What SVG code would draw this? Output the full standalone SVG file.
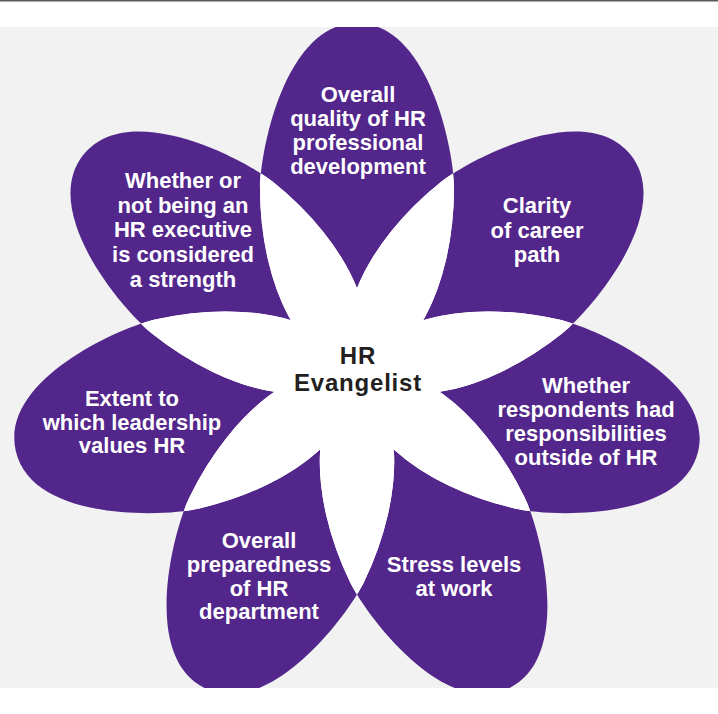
<svg xmlns="http://www.w3.org/2000/svg" xmlns:xlink="http://www.w3.org/1999/xlink" width="718" height="714" viewBox="0 0 718 714">
<style>
.petal { fill: #53268b; }
.ov { fill: #ffffff; }
.lbl { font-family: "Liberation Sans", Arial, sans-serif; font-weight: bold; font-size: 22px; fill: #ffffff; text-anchor: middle; }
.ctr { font-family: "Liberation Sans", Arial, sans-serif; font-weight: bold; font-size: 24px; fill: #231f20; text-anchor: middle; letter-spacing: 0.8px; }
</style>
<defs>
<path id="e0" transform="translate(357,373) rotate(-90)" d="M4,0 A181,97 0 0 1 185,-97 C222,-97 350,-72 350,0 C350,72 222,97 185,97 A181,97 0 0 1 4,0 Z"/>
<path id="e1" transform="translate(357,373) rotate(-38.571)" d="M4,0 A181,97 0 0 1 185,-97 C222,-97 350,-72 350,0 C350,72 222,97 185,97 A181,97 0 0 1 4,0 Z"/>
<path id="e2" transform="translate(357,373) rotate(12.857)" d="M4,0 A181,97 0 0 1 185,-97 C222,-97 350,-72 350,0 C350,72 222,97 185,97 A181,97 0 0 1 4,0 Z"/>
<path id="e3" transform="translate(357,373) rotate(64.286)" d="M4,0 A181,97 0 0 1 185,-97 C222,-97 350,-72 350,0 C350,72 222,97 185,97 A181,97 0 0 1 4,0 Z"/>
<path id="e4" transform="translate(357,373) rotate(115.714)" d="M4,0 A181,97 0 0 1 185,-97 C222,-97 350,-72 350,0 C350,72 222,97 185,97 A181,97 0 0 1 4,0 Z"/>
<path id="e5" transform="translate(357,373) rotate(167.143)" d="M4,0 A181,97 0 0 1 185,-97 C222,-97 350,-72 350,0 C350,72 222,97 185,97 A181,97 0 0 1 4,0 Z"/>
<path id="e6" transform="translate(357,373) rotate(218.571)" d="M4,0 A181,97 0 0 1 185,-97 C222,-97 350,-72 350,0 C350,72 222,97 185,97 A181,97 0 0 1 4,0 Z"/>
<clipPath id="bgclip"><rect x="0" y="27" width="718" height="661"/></clipPath>
<clipPath id="c0"><use href="#e1"/><use href="#e2"/><use href="#e3"/><use href="#e4"/><use href="#e5"/><use href="#e6"/></clipPath>
<clipPath id="c1"><use href="#e0"/><use href="#e2"/><use href="#e3"/><use href="#e4"/><use href="#e5"/><use href="#e6"/></clipPath>
<clipPath id="c2"><use href="#e0"/><use href="#e1"/><use href="#e3"/><use href="#e4"/><use href="#e5"/><use href="#e6"/></clipPath>
<clipPath id="c3"><use href="#e0"/><use href="#e1"/><use href="#e2"/><use href="#e4"/><use href="#e5"/><use href="#e6"/></clipPath>
<clipPath id="c4"><use href="#e0"/><use href="#e1"/><use href="#e2"/><use href="#e3"/><use href="#e5"/><use href="#e6"/></clipPath>
<clipPath id="c5"><use href="#e0"/><use href="#e1"/><use href="#e2"/><use href="#e3"/><use href="#e4"/><use href="#e6"/></clipPath>
<clipPath id="c6"><use href="#e0"/><use href="#e1"/><use href="#e2"/><use href="#e3"/><use href="#e4"/><use href="#e5"/></clipPath>
</defs>
<rect x="0" y="0" width="718" height="714" fill="#ffffff"/>
<rect x="0" y="0" width="718" height="1.5" fill="#5a5a5a"/>
<rect x="0" y="27" width="718" height="661" fill="#f2f2f2"/>
<g id="flower" clip-path="url(#bgclip)">
<g id="node-professional-development">
<use href="#e0" class="petal"/>
<text class="lbl"><tspan x="358" y="102">Overall</tspan><tspan x="358" y="126">quality of HR</tspan><tspan x="358" y="150">professional</tspan><tspan x="358" y="174">development</tspan></text>
</g>
<g id="node-career-path">
<use href="#e1" class="petal"/>
<text class="lbl"><tspan x="537" y="213">Clarity</tspan><tspan x="537" y="238">of career</tspan><tspan x="537" y="262">path</tspan></text>
</g>
<g id="node-outside-responsibilities">
<use href="#e2" class="petal"/>
<text class="lbl"><tspan x="586" y="393">Whether</tspan><tspan x="586" y="417">respondents had</tspan><tspan x="586" y="441">responsibilities</tspan><tspan x="586" y="465">outside of HR</tspan></text>
</g>
<g id="node-stress">
<use href="#e3" class="petal"/>
<text class="lbl"><tspan x="454" y="572">Stress levels</tspan><tspan x="454" y="596">at work</tspan></text>
</g>
<g id="node-preparedness">
<use href="#e4" class="petal"/>
<text class="lbl"><tspan x="259" y="548">Overall</tspan><tspan x="259" y="572">preparedness</tspan><tspan x="259" y="596">of HR</tspan><tspan x="259" y="619">department</tspan></text>
</g>
<g id="node-leadership-values">
<use href="#e5" class="petal"/>
<text class="lbl"><tspan x="132" y="406">Extent to</tspan><tspan x="132" y="430">which leadership</tspan><tspan x="132" y="453">values HR</tspan></text>
</g>
<g id="node-executive-strength">
<use href="#e6" class="petal"/>
<text class="lbl"><tspan x="183" y="188">Whether or</tspan><tspan x="183" y="213">not being an</tspan><tspan x="183" y="237">HR executive</tspan><tspan x="183" y="262">is considered</tspan><tspan x="183" y="287">a strength</tspan></text>
</g>
<g id="overlaps">
<use href="#e0" class="ov" clip-path="url(#c0)"/>
<use href="#e1" class="ov" clip-path="url(#c1)"/>
<use href="#e2" class="ov" clip-path="url(#c2)"/>
<use href="#e3" class="ov" clip-path="url(#c3)"/>
<use href="#e4" class="ov" clip-path="url(#c4)"/>
<use href="#e5" class="ov" clip-path="url(#c5)"/>
<use href="#e6" class="ov" clip-path="url(#c6)"/>
<circle cx="357" cy="373" r="40" class="ov"/>
</g>
<g id="node-center">
<text class="ctr"><tspan x="358" y="364">HR</tspan><tspan x="358" y="391">Evangelist</tspan></text>
</g>
</g>
</svg>
